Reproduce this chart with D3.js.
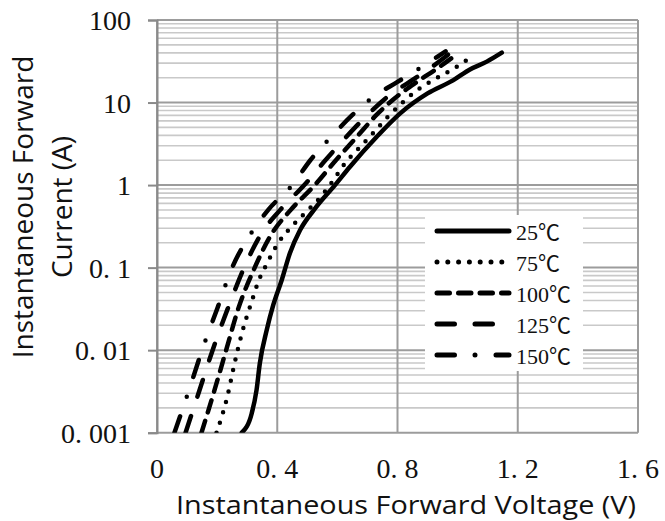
<!DOCTYPE html>
<html lang="en">
<head>
<meta charset="utf-8">
<title>Forward Voltage vs Forward Current</title>
<script src="https://d3js.org/d3.v7.min.js"></script>
<style>
	body { margin: 0; background: #fff; }
	.tick-label { font-family: "Liberation Serif", serif; font-size: 28px; fill: #111; }
	.axis-title { font-family: "Open Sans", sans-serif; font-size: 28px; fill: #111; }
	.legend-label { font-family: "Liberation Serif", "Noto Sans CJK SC", serif; font-size: 22px; fill: #111; }
</style>
</head>
<body>
<script>
	// series names (junction temperature)
	var seriesNames = ["25℃", "75℃", "100℃", "125℃", "150℃"];

	// forward voltage (V) and forward current (A)
	var v25 = [0.282, 0.315, 0.331, 0.342, 0.365, 0.387, 0.415, 0.442, 0.476, 0.526, 0.592, 0.642, 0.731, 0.809, 0.900, 0.986, 1.041, 1.097, 1.147];
	var i25 = [0.001, 0.00171, 0.00327, 0.00692, 0.0175, 0.0355, 0.0708, 0.149, 0.285, 0.521, 1.0, 1.67, 3.85, 7.4, 12.9, 18.7, 25.2, 31.3, 40.2];

	var v75 = [0.198, 0.235, 0.257, 0.282, 0.315, 0.337, 0.367, 0.400, 0.442, 0.493, 0.542, 0.587, 0.625, 0.673, 0.720, 0.766, 0.814, 0.866, 0.925, 0.988, 1.047];
	var i75 = [0.001, 0.00285, 0.00668, 0.0158, 0.0389, 0.0676, 0.114, 0.191, 0.299, 0.461, 0.701, 1.15, 1.83, 2.83, 4.31, 6.61, 9.77, 14.2, 19.3, 25.9, 35.9];

	var v100 = [0.148, 0.190, 0.230, 0.270, 0.325, 0.380, 0.445, 0.525, 0.595, 0.665, 0.730, 0.790, 0.865, 0.935, 0.995];
	var i100 = [0.001, 0.00316, 0.01, 0.0316, 0.1, 0.251, 0.501, 1.0, 2.0, 3.85, 7.08, 11.2, 17.8, 26.3, 38.0];

	var v125 = [0.095, 0.140, 0.185, 0.235, 0.290, 0.345, 0.410, 0.490, 0.560, 0.630, 0.700, 0.760, 0.840, 0.910, 0.975];
	var i125 = [0.001, 0.00316, 0.01, 0.0316, 0.1, 0.251, 0.501, 1.0, 2.0, 3.85, 7.08, 11.2, 17.8, 26.3, 39.8];

	var v150 = [0.058, 0.105, 0.150, 0.200, 0.250, 0.310, 0.370, 0.450, 0.510, 0.580, 0.650, 0.720, 0.800, 0.880, 0.960];
	var i150 = [0.001, 0.00316, 0.01, 0.0316, 0.1, 0.251, 0.501, 1.0, 2.0, 3.85, 7.08, 11.7, 17.8, 26.9, 41.7];

	// axis ticks
	var xTicks = [0, 0.4, 0.8, 1.2, 1.6];
	var xTickLabels = ["0", "0. 4", "0. 8", "1. 2", "1. 6"];
	var yTicks = [0.001, 0.01, 0.1, 1, 10, 100];
	var yTickLabels = ["0. 001", "0. 01", "0. 1", "1", "10", "100"];

	createVisualization();

	function createVisualization() {
		var w = 665;
		var h = 521;

		// plot area
		var left = 157, right = 638, top = 20, bottom = 432.7;

		var xScale = d3.scaleLinear().domain([0, 1.6]).range([left, right]);
		var yScale = d3.scaleLog().domain([0.001, 100]).range([bottom, top]);

		var svg = d3.select("body")
			.append("svg")
			.attr("width", w)
			.attr("height", h);

		// minor horizontal grid (2..9 in every decade)
		var minor = [];
		yTicks.slice(0, -1).forEach(function(d) {
			for (var k = 2; k <= 9; k++) minor.push(d * k);
		});
		svg.append("g").selectAll("line")
			.data(minor)
			.enter()
			.append("line")
			.attr("x1", left).attr("x2", right)
			.attr("y1", function(d) { return yScale(d); })
			.attr("y2", function(d) { return yScale(d); })
			.attr("stroke", "#c9c9c9")
			.attr("stroke-width", 1.6);

		// major grid
		svg.append("g").selectAll("line")
			.data(yTicks)
			.enter()
			.append("line")
			.attr("x1", left).attr("x2", right)
			.attr("y1", function(d) { return yScale(d); })
			.attr("y2", function(d) { return yScale(d); })
			.attr("stroke", "#9c9c9c")
			.attr("stroke-width", 2);

		svg.append("g").selectAll("line")
			.data(xTicks)
			.enter()
			.append("line")
			.attr("x1", function(d) { return xScale(d); })
			.attr("x2", function(d) { return xScale(d); })
			.attr("y1", top).attr("y2", bottom)
			.attr("stroke", "#9c9c9c")
			.attr("stroke-width", 2);

		// y-axis with outside tick marks
		var yAxis = d3.axisLeft(yScale)
			.tickValues(yTicks)
			.tickSize(9)
			.tickFormat("");
		var gy = svg.append("g")
			.attr("transform", "translate(" + left + ",0)")
			.call(yAxis);
		gy.selectAll("path, line").attr("stroke", "#8a8a8a").attr("stroke-width", 2);

		// tick labels
		svg.append("g").selectAll("text")
			.data(yTicks)
			.enter()
			.append("text")
			.attr("class", "tick-label")
			.attr("text-anchor", "end")
			.attr("x", 131)
			.attr("y", function(d) { return yScale(d) + 10; })
			.text(function(d, i) { return yTickLabels[i]; });

		svg.append("g").selectAll("text")
			.data(xTicks)
			.enter()
			.append("text")
			.attr("class", "tick-label")
			.attr("text-anchor", "middle")
			.attr("x", function(d) { return xScale(d); })
			.attr("y", 478)
			.text(function(d, i) { return xTickLabels[i]; });

		// legend background (covers the grid)
		var legendX = 425, legendY = 215;
		svg.append("rect")
			.attr("x", legendX).attr("y", legendY)
			.attr("width", 158).attr("height", 156)
			.attr("fill", "#fff");

		// line styles
		var styles = [
			{ dash: null },
			{ dash: "0 10.8" },
			{ dash: "12.5 9" },
			{ dash: "17.5 20.5" },
			{ dash: "17.5 20.5 0 21" }
		];

		var seriesData = [
			d3.zip(v25, i25),
			d3.zip(v75, i75),
			d3.zip(v100, i100),
			d3.zip(v125, i125),
			d3.zip(v150, i150)
		];

		svg.append("clipPath")
			.attr("id", "plot-clip")
			.append("rect")
			.attr("x", left).attr("y", top)
			.attr("width", right - left).attr("height", bottom - top);

		var line = d3.line()
			.x(function(d) { return xScale(d[0]); })
			.y(function(d) { return yScale(d[1]); })
			.curve(d3.curveMonotoneX);

		svg.append("g")
			.attr("clip-path", "url(#plot-clip)")
			.selectAll("path")
			.data(seriesData)
			.enter()
			.append("path")
			.attr("d", line)
			.attr("fill", "none")
			.attr("stroke", "#000")
			.attr("stroke-width", 4.5)
			.attr("stroke-linecap", "round")
			.attr("stroke-dasharray", function(d, i) { return styles[i].dash; });

		// legend entries
		var legend = svg.append("g").selectAll("g")
			.data(seriesNames)
			.enter()
			.append("g")
			.attr("transform", function(d, i) { return "translate(0," + (231 + i * 31) + ")"; });

		legend.append("line")
			.attr("x1", 437).attr("x2", 509)
			.attr("y1", 0).attr("y2", 0)
			.attr("stroke", "#000")
			.attr("stroke-width", 5)
			.attr("stroke-linecap", "round")
			.attr("stroke-dasharray", function(d, i) { return styles[i].dash; });

		legend.append("text")
			.attr("class", "legend-label")
			.attr("x", 516)
			.attr("y", 9)
			.text(function(d) { return d; });

		// axis titles
		svg.append("text")
			.attr("class", "axis-title")
			.attr("text-anchor", "middle")
			.attr("x", 406)
			.attr("y", 514)
			.style("font-size", "26px")
			.attr("textLength", 460)
			.attr("lengthAdjust", "spacingAndGlyphs")
			.text("Instantaneous Forward Voltage (V)");

		svg.append("text")
			.attr("class", "axis-title")
			.attr("text-anchor", "middle")
			.attr("transform", "translate(33,207) rotate(-90)")
			.text("Instantaneous Forward");

		svg.append("text")
			.attr("class", "axis-title")
			.attr("text-anchor", "middle")
			.attr("transform", "translate(72,207) rotate(-90)")
			.text("Current (A)");
	}
</script>
</body>
</html>
